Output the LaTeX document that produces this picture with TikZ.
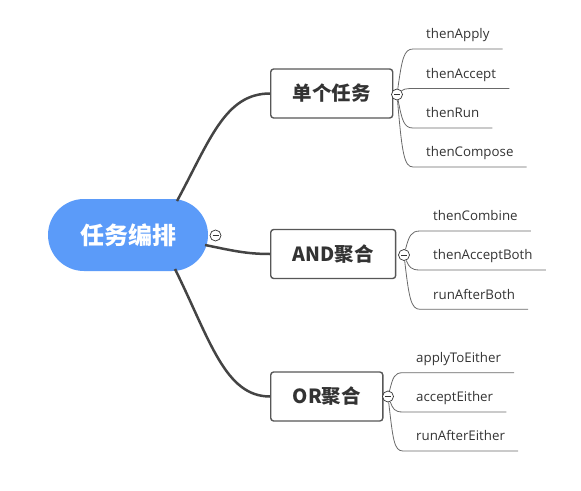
\documentclass[tikz,border=0pt]{standalone}
\usepackage{fontspec}
\setmainfont{Open Sans}
\newfontfamily\cjk{Noto Sans CJK SC}
\definecolor{rootblue}{HTML}{5B9BF9}
\definecolor{linegray}{HTML}{444444}
\definecolor{textgray}{HTML}{333333}
\tikzset{
  rootnode/.style={fill=rootblue, text=white, rounded corners=36pt, minimum width=160pt, minimum height=72pt, font=\cjk\bfseries\fontsize{24}{28}\selectfont},
  topic/.style={draw=linegray!90, line width=1.4pt, rounded corners=3pt, fill=white, text=textgray, inner xsep=22pt, minimum height=49pt, anchor=west, font=\cjk\bfseries\fontsize{19.5}{23}\selectfont},
  leaf/.style={anchor=south west, inner xsep=13pt, inner ysep=10pt, text height=10pt, text depth=0pt, text=textgray, font=\fontsize{13.3}{16}\selectfont},
  fold/.style={circle, draw=textgray, line width=0.7pt, fill=white, minimum size=11pt, inner sep=0pt,
    path picture={\draw[line width=0.9pt] ([xshift=-3pt]path picture bounding box.center) -- ([xshift=3pt]path picture bounding box.center);}},
  mainline/.style={draw=linegray, line width=2.5pt},
  leafline/.style={draw=linegray!80, line width=0.8pt}
}
\begin{document}
\begin{tikzpicture}[x=1pt, y=-1pt]
\useasboundingbox (0,0) rectangle (581,490);

% Root and its three topics
\node[rootnode] (root) at (128,235) {任务编排};
\node[fold] (rootfold) at (215.5,235.5) {};
\node[topic] (single) at (270,93.5) {单个任务};
\node[topic] (andagg) at (270,254) {AND聚合};
\node[topic] (oragg) at (270,396.5) {OR聚合};

% Main connectors
\draw[mainline] ([shift={(49,-34)}]root.center) .. controls +(33,-61) and +(-45,0) .. (single.west);
\draw[mainline] ([shift={(77,10)}]root.center) .. controls +(25,5) and +(-25,0) .. (andagg.west);
\draw[mainline] ([shift={(47,34)}]root.center) .. controls +(35,71) and +(-45,0) .. (oragg.west);

% Fold buttons
\node[fold] (singlefold) at (397,94.5) {};
\node[fold] (andfold) at (404,255) {};
\node[fold] (orfold) at (388,396.5) {};

% Leaves of the single task
\node[leaf] (apply) at (413,49) {thenApply};
\node[leaf] (accept) at (413,88.5) {thenAccept};
\node[leaf] (run) at (413,128) {thenRun};
\node[leaf] (compose) at (413,167) {thenCompose};
\draw[leafline] (singlefold) .. controls +(5,-36) and +(-9,0) .. (apply.south west) -- (apply.south east);
\draw[leafline] (singlefold) .. controls +(6,-5) and +(-8,0) .. (accept.south west) -- (accept.south east);
\draw[leafline] (singlefold) .. controls +(5,26) and +(-9,0) .. (run.south west) -- (run.south east);
\draw[leafline] (singlefold) .. controls +(5,58) and +(-9,0) .. (compose.south west) -- (compose.south east);

% Leaves of AND
\node[leaf] (combine) at (420,231) {thenCombine};
\node[leaf] (acceptboth) at (420,270) {thenAcceptBoth};
\node[leaf] (runboth) at (420,309.3) {runAfterBoth};
\draw[leafline] (andfold) .. controls +(5,-19) and +(-9,0) .. (combine.south west) -- (combine.south east);
\draw[leafline] (andfold) .. controls +(5,12) and +(-9,0) .. (acceptboth.south west) -- (acceptboth.south east);
\draw[leafline] (andfold) .. controls +(5,43) and +(-9,0) .. (runboth.south west) -- (runboth.south east);

% Leaves of OR
\node[leaf] (applyeither) at (403,372.7) {applyToEither};
\node[leaf] (accepteither) at (403,412) {acceptEither};
\node[leaf] (runeither) at (403,451) {runAfterEither};
\draw[leafline] (orfold) .. controls +(5,-19) and +(-9,0) .. (applyeither.south west) -- (applyeither.south east);
\draw[leafline] (orfold) .. controls +(5,12) and +(-9,0) .. (accepteither.south west) -- (accepteither.south east);
\draw[leafline] (orfold) .. controls +(5,43) and +(-9,0) .. (runeither.south west) -- (runeither.south east);
\end{tikzpicture}
\end{document}
